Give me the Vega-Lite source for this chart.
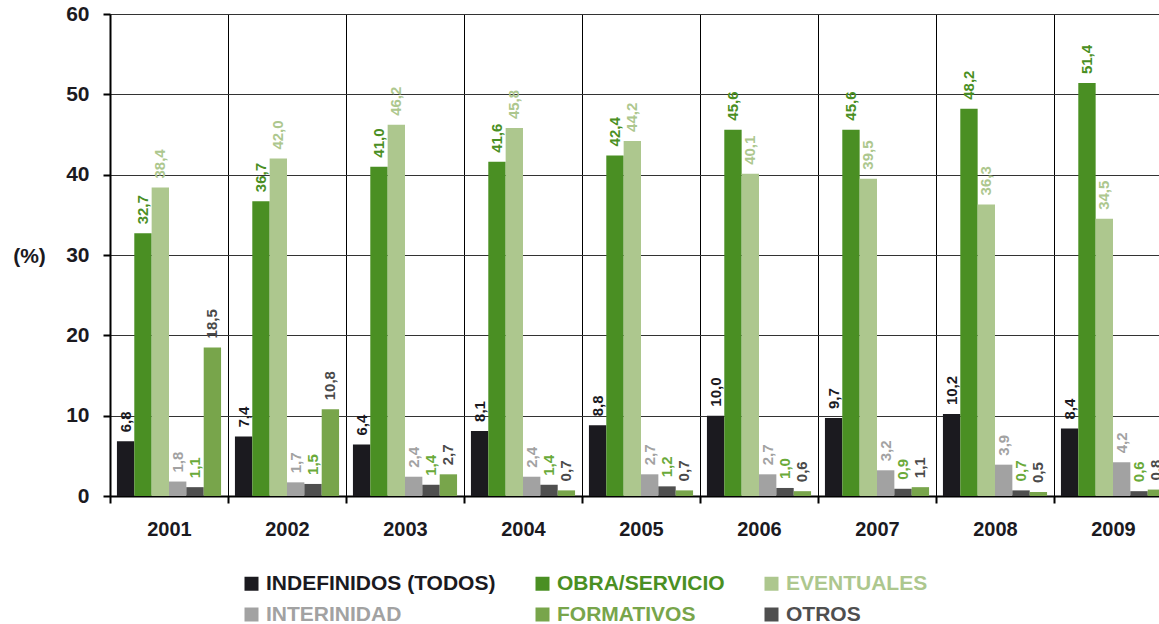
{
  "$schema": "https://vega.github.io/schema/vega-lite/v6.json",
  "autosize": {"type": "none"},
  "padding": {"left": 110, "top": 14, "right": 0, "bottom": 128},
  "width": 1049,
  "height": 482,
  "background": "white",
  "config": {
    "font": "Liberation Sans",
    "view": {"stroke": null},
    "locale": {"number": {"decimal": ",", "thousands": ".", "grouping": [3], "currency": ["", " €"]}}
  },
  "data": {
    "values": [
      {"year": "2001", "serie": "INDEFINIDOS (TODOS)", "value": 6.8},
      {"year": "2001", "serie": "OBRA/SERVICIO", "value": 32.7},
      {"year": "2001", "serie": "EVENTUALES", "value": 38.4},
      {"year": "2001", "serie": "INTERINIDAD", "value": 1.8},
      {"year": "2001", "serie": "OTROS", "value": 1.1},
      {"year": "2001", "serie": "FORMATIVOS", "value": 18.5},
      {"year": "2002", "serie": "INDEFINIDOS (TODOS)", "value": 7.4},
      {"year": "2002", "serie": "OBRA/SERVICIO", "value": 36.7},
      {"year": "2002", "serie": "EVENTUALES", "value": 42.0},
      {"year": "2002", "serie": "INTERINIDAD", "value": 1.7},
      {"year": "2002", "serie": "OTROS", "value": 1.5},
      {"year": "2002", "serie": "FORMATIVOS", "value": 10.8},
      {"year": "2003", "serie": "INDEFINIDOS (TODOS)", "value": 6.4},
      {"year": "2003", "serie": "OBRA/SERVICIO", "value": 41.0},
      {"year": "2003", "serie": "EVENTUALES", "value": 46.2},
      {"year": "2003", "serie": "INTERINIDAD", "value": 2.4},
      {"year": "2003", "serie": "OTROS", "value": 1.4},
      {"year": "2003", "serie": "FORMATIVOS", "value": 2.7},
      {"year": "2004", "serie": "INDEFINIDOS (TODOS)", "value": 8.1},
      {"year": "2004", "serie": "OBRA/SERVICIO", "value": 41.6},
      {"year": "2004", "serie": "EVENTUALES", "value": 45.8},
      {"year": "2004", "serie": "INTERINIDAD", "value": 2.4},
      {"year": "2004", "serie": "OTROS", "value": 1.4},
      {"year": "2004", "serie": "FORMATIVOS", "value": 0.7},
      {"year": "2005", "serie": "INDEFINIDOS (TODOS)", "value": 8.8},
      {"year": "2005", "serie": "OBRA/SERVICIO", "value": 42.4},
      {"year": "2005", "serie": "EVENTUALES", "value": 44.2},
      {"year": "2005", "serie": "INTERINIDAD", "value": 2.7},
      {"year": "2005", "serie": "OTROS", "value": 1.2},
      {"year": "2005", "serie": "FORMATIVOS", "value": 0.7},
      {"year": "2006", "serie": "INDEFINIDOS (TODOS)", "value": 10.0},
      {"year": "2006", "serie": "OBRA/SERVICIO", "value": 45.6},
      {"year": "2006", "serie": "EVENTUALES", "value": 40.1},
      {"year": "2006", "serie": "INTERINIDAD", "value": 2.7},
      {"year": "2006", "serie": "OTROS", "value": 1.0},
      {"year": "2006", "serie": "FORMATIVOS", "value": 0.6},
      {"year": "2007", "serie": "INDEFINIDOS (TODOS)", "value": 9.7},
      {"year": "2007", "serie": "OBRA/SERVICIO", "value": 45.6},
      {"year": "2007", "serie": "EVENTUALES", "value": 39.5},
      {"year": "2007", "serie": "INTERINIDAD", "value": 3.2},
      {"year": "2007", "serie": "OTROS", "value": 0.9},
      {"year": "2007", "serie": "FORMATIVOS", "value": 1.1},
      {"year": "2008", "serie": "INDEFINIDOS (TODOS)", "value": 10.2},
      {"year": "2008", "serie": "OBRA/SERVICIO", "value": 48.2},
      {"year": "2008", "serie": "EVENTUALES", "value": 36.3},
      {"year": "2008", "serie": "INTERINIDAD", "value": 3.9},
      {"year": "2008", "serie": "OTROS", "value": 0.7},
      {"year": "2008", "serie": "FORMATIVOS", "value": 0.5},
      {"year": "2009", "serie": "INDEFINIDOS (TODOS)", "value": 8.4},
      {"year": "2009", "serie": "OBRA/SERVICIO", "value": 51.4},
      {"year": "2009", "serie": "EVENTUALES", "value": 34.5},
      {"year": "2009", "serie": "INTERINIDAD", "value": 4.2},
      {"year": "2009", "serie": "OTROS", "value": 0.6},
      {"year": "2009", "serie": "FORMATIVOS", "value": 0.8}
    ]
  },
  "encoding": {
    "x": {
      "field": "year", "type": "nominal",
      "scale": {"range": [0, 1062], "paddingInner": 0, "paddingOuter": 0},
      "axis": {
        "title": null, "labelAngle": 0, "labelFontSize": 20, "labelFontWeight": "bold",
        "labelColor": "#1b1a1f", "labelPadding": 16,
        "domainColor": "#000000", "domainWidth": 2,
        "tickBand": "extent", "ticks": true, "tickSize": 7, "tickWidth": 2, "tickColor": "#000000",
        "grid": true, "gridColor": "#000000", "gridWidth": 1
      }
    },
    "xOffset": {
      "field": "serie", "type": "nominal",
      "scale": {
        "domain": ["INDEFINIDOS (TODOS)", "OBRA/SERVICIO", "EVENTUALES", "INTERINIDAD", "OTROS", "FORMATIVOS"],
        "paddingInner": 0, "paddingOuter": 0.4
      }
    },
    "y": {
      "field": "value", "type": "quantitative",
      "scale": {"domain": [0, 60], "nice": false},
      "axis": {
        "values": [0, 10, 20, 30, 40, 50, 60],
        "title": "(%)", "titleAngle": 0, "titleFontSize": 21, "titleFontWeight": "bold",
        "titleColor": "#1b1a1f", "titleX": -81, "titleY": 242, "titleAlign": "center", "titleBaseline": "middle",
        "labelFontSize": 21, "labelFontWeight": "bold", "labelColor": "#1b1a1f", "labelPadding": 14,
        "domainColor": "#000000", "domainWidth": 2,
        "tickSize": 7, "tickWidth": 2, "tickColor": "#000000",
        "grid": true, "gridColor": "#333333", "gridWidth": 1
      }
    }
  },
  "layer": [
    {
      "mark": {"type": "bar"},
      "encoding": {
        "color": {
          "field": "serie", "type": "nominal",
          "scale": {
            "domain": ["INDEFINIDOS (TODOS)", "OBRA/SERVICIO", "EVENTUALES", "INTERINIDAD", "FORMATIVOS", "OTROS"],
            "range": ["#1b1a1f", "#4a8f23", "#adc78e", "#a2a2a2", "#78a54b", "#4f4f4f"]
          },
          "legend": {
            "title": null, "orient": "none", "legendX": 131, "legendY": 559, "direction": "horizontal",
            "columns": 3, "columnPadding": 36, "rowPadding": 9, "padding": 0,
            "symbolType": "square", "symbolSize": 196, "symbolStrokeWidth": 0, "labelOffset": 4,
            "labelFontSize": 21, "labelFontWeight": "bold", "labelLimit": 400,
            "encode": {"labels": {"update": {"fill": {"scale": "color", "field": "value"}}}}
          }
        }
      }
    },
    {
      "mark": {"type": "text", "angle": 270, "align": "left", "baseline": "middle", "dx": 9, "fontSize": 15, "fontWeight": "bold"},
      "encoding": {
        "text": {"field": "value", "type": "quantitative", "format": ".1f"},
        "color": {
          "condition": [
            {"test": "datum.serie === 'INDEFINIDOS (TODOS)'", "value": "#1b1a1f"},
            {"test": "datum.serie === 'OBRA/SERVICIO'", "value": "#4a8f23"},
            {"test": "datum.serie === 'EVENTUALES'", "value": "#adc78e"},
            {"test": "datum.serie === 'INTERINIDAD'", "value": "#a2a2a2"},
            {"test": "datum.serie === 'OTROS'", "value": "#6aaa3a"}
          ],
          "value": "#4a4a4a"
        }
      }
    }
  ]
}
